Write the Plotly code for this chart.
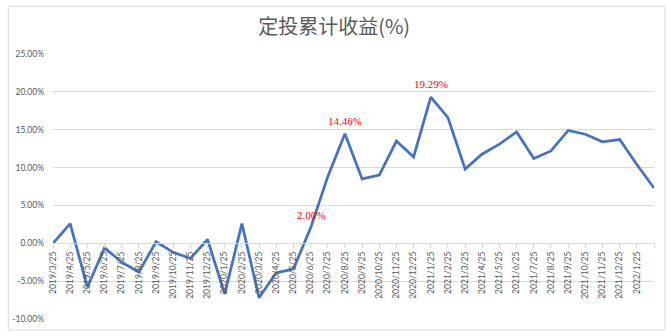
import plotly.graph_objects as go

dates = [
    "2019/3/25", "2019/4/25", "2019/5/25", "2019/6/25", "2019/7/25", "2019/8/25",
    "2019/9/25", "2019/10/25", "2019/11/25", "2019/12/25", "2020/1/25", "2020/2/25",
    "2020/3/25", "2020/4/25", "2020/5/25", "2020/6/25", "2020/7/25", "2020/8/25",
    "2020/9/25", "2020/10/25", "2020/11/25", "2020/12/25", "2021/1/25", "2021/2/25",
    "2021/3/25", "2021/4/25", "2021/5/25", "2021/6/25", "2021/7/25", "2021/8/25",
    "2021/9/25", "2021/10/25", "2021/11/25", "2021/12/25", "2022/1/25", "2022/2/25",
]
tick_labels = dates[:35] + [""]

returns = [
    0.0, 2.6, -5.8, -0.6, -2.5, -3.8,
    0.2, -1.2, -2.0, 0.5, -6.7, 2.6,
    -7.2, -3.9, -3.4, 2.00, 8.8, 14.46,
    8.5, 9.0, 13.5, 11.4, 19.29, 16.6,
    9.8, 11.8, 13.1, 14.7, 11.2, 12.2,
    14.9, 14.4, 13.4, 13.7, 10.4, 7.3,
]

label_idx = [15, 17, 22]
label_text = ["2.00%", "14.46%", "19.29%"]

y_ticks = [-10, -5, 0, 5, 10, 15, 20, 25]
y_tick_text = ["-10.00%", "-5.00%", "0.00%", "5.00%", "10.00%", "15.00%", "20.00%", "25.00%"]

fig = go.Figure()
fig.add_trace(go.Scatter(
    x=dates, y=returns, mode="lines",
    line=dict(color="#4472C4", width=2.75),
    hoverinfo="skip", showlegend=False,
))

for i, t in zip(label_idx, label_text):
    fig.add_annotation(
        x=dates[i], y=returns[i], text=t, showarrow=False,
        yshift=13, font=dict(family="Liberation Serif", size=11, color="#FF0000"),
    )

fig.add_shape(
    type="rect", xref="paper", yref="paper",
    x0=(4 - 49) / 605, x1=(665 - 49) / 605,
    y0=(320 - 331) / 266, y1=(320 - 6) / 266,
    line=dict(color="#D9D9D9", width=1), fillcolor="rgba(0,0,0,0)", layer="below",
)

fig.update_layout(
    width=671, height=336,
    margin=dict(l=49, r=17, t=54, b=16),
    paper_bgcolor="white", plot_bgcolor="white",
    title=dict(
        text="定投累计收益(%)", x=0.498, xref="container", xanchor="center",
        y=1 - 27 / 336, yref="container", yanchor="middle",
        font=dict(family="Noto Sans CJK SC", size=20, color="#595959"),
    ),
    xaxis=dict(
        type="category", range=[0, 35], anchor="free", position=10 / 35,
        tickmode="array", tickvals=dates, ticktext=tick_labels,
        tickangle=-90, showgrid=False, showline=True, linecolor="#D9D9D9", linewidth=1,
        ticks="outside", ticklen=4, tickcolor="#D9D9D9",
        tickfont=dict(family="Lato", size=8.5, color="#595959"),
        zeroline=False,
    ),
    yaxis=dict(
        range=[-10, 25], tickmode="array", tickvals=y_ticks, ticktext=y_tick_text,
        showgrid=True, gridcolor="#D9D9D9", gridwidth=1, zeroline=False,
        showline=False, ticks="", ticklabelstandoff=8,
        tickfont=dict(family="Lato", size=8.5, color="#595959"),
    ),
)

fig.write_html("out.html")
